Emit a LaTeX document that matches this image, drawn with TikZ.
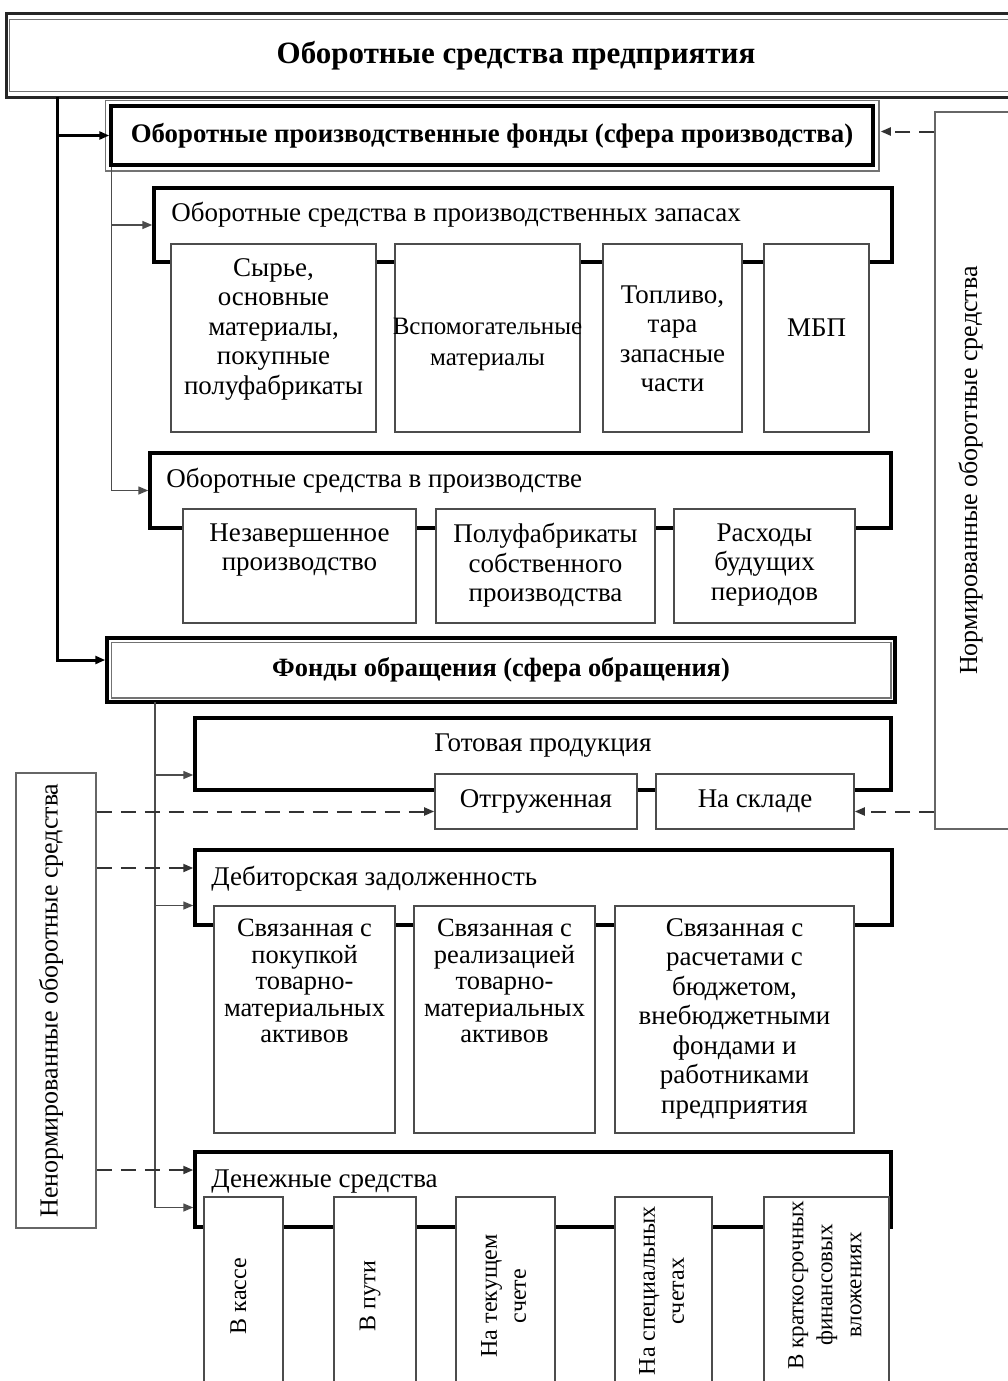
\documentclass[tikz,border=0pt]{standalone}
\usepackage{fontspec}
\setmainfont{Liberation Serif}
\usetikzlibrary{arrows.meta}
\begin{document}
\begin{tikzpicture}[x=1pt,y=-1pt,font=\fontsize{27}{29.5}\selectfont,
  placebox/.style n args={4}{at={({(#1+#3)/2},{(#2+#4)/2})}, anchor=center,
     minimum width={(#3-#1)*1pt}, minimum height={(#4-#2)*1pt}},
  frame/.style={draw=black, line width=3.5pt, fill=white, inner sep=0pt},
  child/.style={draw=black!70, line width=1.6pt, fill=white, inner sep=0pt, align=center},
  side/.style={draw=black!60, line width=1.6pt, fill=white, inner sep=0pt},
  ttl/.style={anchor=north west, inner sep=0pt},
  lab/.style={anchor=north, inner sep=0pt, align=center},
  mainline/.style={draw=black, line width=3pt},
  thinl/.style={draw=black!70, line width=1.5pt},
  dashl/.style={draw=black!80, line width=2pt, dash pattern=on 15pt off 9pt},
  tip/.style={-{Triangle[length=10pt,width=8pt]}}]
\useasboundingbox (0,0) rectangle (1008,1381);
\clip (0,0) rectangle (1008,1381);
\fill[white] (0,0) rectangle (1008,1381);

% ---- top box
\node[draw=black!85, line width=3pt, fill=white, inner sep=0pt, placebox={6}{14}{1026}{97}] (top)
  {\fontsize{31}{34}\selectfont\bfseries Оборотные средства предприятия};
\draw[black!55, line width=1.5pt] ([shift={(5pt,-7pt)}]top.north west) rectangle ([shift={(10pt,7pt)}]top.south east);

% ---- right side box
\node[side, placebox={935}{112}{1020}{829}, font=\fontsize{26}{29}\selectfont] (norm)
  {\rotatebox{90}{Нормированные оборотные средства}\hspace*{14pt}};

% ---- left side box
\node[side, placebox={16}{773}{96}{1228}, font=\fontsize{26}{29}\selectfont] (nenorm)
  {\rotatebox{90}{Ненормированные оборотные средства}\hspace*{10pt}};

% ---- Оборотные производственные фонды
\node[frame, placebox={111}{106}{873}{165}, font=\fontsize{26.8}{29}\selectfont\bfseries] (opf)
  {Оборотные производственные фонды (сфера производства)};
\draw[black!55, line width=1.5pt] ([shift={(-4pt,4pt)}]opf.north west) rectangle ([shift={(4pt,-4pt)}]opf.south east);

% ---- запасы
\node[frame, placebox={154}{188}{892}{262},
  label={[ttl, xshift=19pt, yshift=-16pt]north west:Оборотные средства в производственных запасах}] (zap) {};
\node[child, placebox={171}{244}{376}{432},
  label={[lab, yshift=-15pt]north:{Сырье,\\основные\\материалы,\\покупные\\полуфабрикаты}}] (syr) {};
\node[child, placebox={395}{244}{580}{432},
  label={[lab, yshift=-75pt, font=\fontsize{25}{30.5}\selectfont]north:{Вспомогательные\\материалы}}] (vsp) {};
\node[child, placebox={603}{244}{742}{432},
  label={[lab, yshift=-42pt]north:{Топливо,\\тара\\запасные\\части}}] (topl) {};
\node[child, placebox={764}{244}{869}{432},
  label={[lab, yshift=-75pt]north:{МБП}}] (mbp) {};

% ---- в производстве
\node[frame, placebox={150}{453}{891}{528},
  label={[ttl, xshift=18pt, yshift=-17pt]north west:Оборотные средства в производстве}] (pr) {};
\node[child, placebox={183}{509}{416}{623},
  label={[lab, yshift=-15pt]north:{Незавершенное\\производство}}] (nez) {};
\node[child, placebox={436}{509}{655}{623},
  label={[lab, yshift=-15pt]north:{Полуфабрикаты\\собственного\\производства}}] (pol) {};
\node[child, placebox={674}{509}{855}{623},
  label={[lab, yshift=-15pt]north:{Расходы\\будущих\\периодов}}] (ras) {};

% ---- Фонды обращения
\node[frame, placebox={107}{638}{895}{702}, font=\fontsize{26.4}{29}\selectfont\bfseries] (fo)
  {Фонды обращения (сфера обращения)};
\draw[black!55, line width=1.5pt] ([shift={(6pt,-6pt)}]fo.north west) rectangle ([shift={(-6pt,6pt)}]fo.south east);

% ---- Готовая продукция
\node[frame, placebox={195}{718}{891}{790},
  label={[lab, yshift=-17pt]north:Готовая продукция}] (got) {};
\node[child, placebox={435}{774}{637}{829}] (otgr) {Отгруженная};
\node[child, placebox={656}{774}{854}{829}] (skl) {На складе};

% ---- Дебиторская задолженность
\node[frame, placebox={195}{850}{892}{925},
  label={[ttl, xshift=18pt, yshift=-18pt]north west:Дебиторская задолженность}] (deb) {};
\node[child, placebox={214}{906}{395}{1133},
  label={[lab, yshift=-14pt, font=\fontsize{26.5}{26.5}\selectfont]north:{Связанная с\\покупкой\\товарно-\\материальных\\активов}}] (d1) {};
\node[child, placebox={414}{906}{595}{1133},
  label={[lab, yshift=-14pt, font=\fontsize{26.5}{26.5}\selectfont]north:{Связанная с\\реализацией\\товарно-\\материальных\\активов}}] (d2) {};
\node[child, placebox={615}{906}{854}{1133},
  label={[lab, yshift=-13pt]north:{Связанная с\\расчетами с\\бюджетом,\\внебюджетными\\фондами и\\работниками\\предприятия}}] (d3) {};

% ---- Денежные средства
\node[frame, placebox={195}{1152}{891}{1227},
  label={[ttl, xshift=18pt, yshift=-19pt]north west:Денежные средства}] (den) {};
\begin{scope}[font=\fontsize{24}{29}\selectfont]
\node[child, placebox={204}{1197}{283}{1395}] (m1) {\rotatebox{90}{В кассе}\hspace*{10pt}};
\node[child, placebox={334}{1197}{416}{1395}] (m2) {\rotatebox{90}{В пути}\hspace*{10pt}};
\node[child, placebox={456}{1197}{555}{1395}] (m3)
  {\rotatebox{90}{\begin{tabular}{@{}c@{}}На текущем\\счете\end{tabular}}};
\node[child, placebox={615}{1197}{712}{1395}] (m4)
  {\rotatebox{90}{\hspace*{10pt}\begin{tabular}{@{}c@{}}На специальных\\счетах\end{tabular}}};
\node[child, placebox={764}{1197}{889}{1395}, font=\fontsize{23}{29}\selectfont] (m5)
  {\rotatebox{90}{\hspace*{22pt}\begin{tabular}{@{}c@{}}В краткосрочных\\финансовых\\вложениях\end{tabular}}};
\end{scope}

% ---- connectors: main thick line
\coordinate (a0) at (57,97);
\draw[mainline, tip] (a0) |- (opf.west);
\draw[mainline, tip] (a0) |- ([yshift=10pt]fo.west);

% ---- thin line from OPF
\draw[thinl, tip] ([xshift=2pt]opf.south west) |- (zap.west);
\draw[thinl, tip] ([xshift=2pt]opf.south west) |- (pr.west);

% ---- thin line from FO
\coordinate (c0) at (155,702);
\draw[thinl, tip] (c0) |- ([yshift=-21pt]got.west);
\draw[thinl, tip] (c0) |- ([yshift=-18pt]deb.west);
\draw[thinl, tip] (c0) |- ([yshift=-18pt]den.west);

% ---- dashed connectors
\coordinate (tOpf) at ([shift={(6pt,4pt)}]opf.east);
\draw[dashl, tip] (norm.west |- tOpf) -- (tOpf);
\coordinate (tSkl) at ([yshift=-10pt]skl.east);
\draw[dashl, tip] (norm.west |- tSkl) -- (tSkl);
\coordinate (tOtg) at ([yshift=-10pt]otgr.west);
\draw[dashl, tip] (nenorm.east |- tOtg) -- (tOtg);
\coordinate (tDeb) at ([yshift=19.5pt]deb.west);
\draw[dashl, tip] (nenorm.east |- tDeb) -- (tDeb);
\coordinate (tDen) at ([yshift=19.5pt]den.west);
\draw[dashl, tip] (nenorm.east |- tDen) -- (tDen);
\end{tikzpicture}
\end{document}
